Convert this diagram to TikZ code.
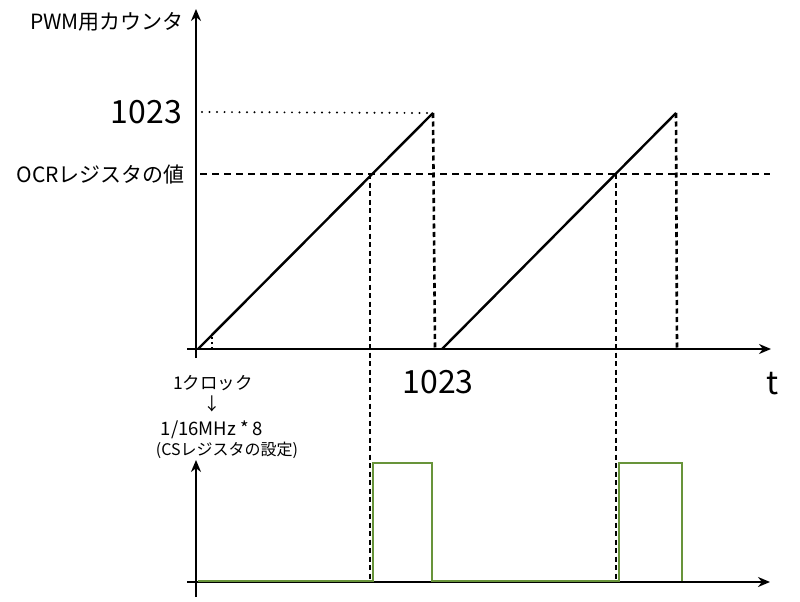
\documentclass[tikz,border=0pt]{standalone}
\usepackage{fontspec}
\setmainfont{Noto Sans CJK JP}
\usetikzlibrary{arrows.meta}
\definecolor{pwmgreen}{RGB}{104,148,58}
\begin{document}
\begin{tikzpicture}[x=1pt,y=-1pt,
    axis/.style={line width=2.2pt,-{Stealth[length=12pt,width=10pt]}},
    ramp/.style={line width=2.4pt},
    cut/.style={line width=2.6pt,dash pattern=on 5pt off 3.5pt},
    level/.style={line width=2.6pt,dash pattern=on 7pt off 5pt},
    dots/.style={line width=2.2pt,line cap=round,dash pattern=on 0pt off 7.5pt},
    pwm/.style={line width=2.6pt,draw=pwmgreen},
    lbl/.style={inner sep=0pt,font=\fontsize{21}{24}\selectfont},
    big/.style={inner sep=0pt,font=\fontsize{32}{36}\selectfont}]
  \useasboundingbox (0,0) rectangle (800,602);
  % upper chart
  \coordinate (Ytop) at (196,9);
  \coordinate (Ybot) at (196,358);
  \coordinate (Xl) at (187,349);
  \coordinate (Xr) at (771,349);
  \coordinate (S1) at (198,349);
  \coordinate (P1) at (433,113);
  \coordinate (E1) at (435,349);
  \coordinate (S2) at (442,349);
  \coordinate (P2) at (676,113);
  \coordinate (E2) at (677,349);
  \coordinate (M) at (202,112);
  \coordinate (Ka) at (212,335);
  \coordinate (Kb) at (212,349);
  \coordinate (Ol) at (200,174);
  \coordinate (Or) at (770,174);
  \coordinate (C1) at (370,174);
  \coordinate (C2) at (616,174);
  \coordinate (D1) at (370,580);
  \coordinate (D2) at (616,580);
  \draw[axis] (Ybot) -- (Ytop);
  \draw[axis] (Xl) -- (Xr);
  \draw[ramp] (S1) -- (P1);
  \draw[ramp] (S2) -- (P2);
  \draw[dots] (M) -- (P1);
  \draw[cut] (P1) -- (E1);
  \draw[cut] (P2) -- (E2);
  \draw[level] (Ol) -- (Or);
  \draw[line width=1.6pt,dash pattern=on 2pt off 3pt] (Kb) -- (Ka);
  \draw[cut] (C1) -- (D1);
  \draw[cut] (C2) -- (D2);
  \node[lbl,anchor=east] (ylab) at (184,22) {PWM用カウンタ};
  \node[big,anchor=east] (top) at (182,112) {1023};
  \node[lbl,anchor=east] (ocr) at (185,175) {OCRレジスタの値};
  \node[big] (bot) at (438,382) {1023};
  \node[big] (tlab) at (773,384) {t};
  \node[inner sep=0pt,font=\fontsize{17.5}{20}\selectfont] (clk) at (213,383) {1クロック};
  \node[inner sep=0pt,font=\fontsize{17.5}{20}\selectfont] (arr) at (212,404) {↓};
  \node[inner sep=0pt,font=\fontsize{18.5}{20}\selectfont] (freq) at (212,430) {1/16MHz * 8};
  \node[inner sep=0pt,font=\fontsize{16}{20}\selectfont] (cs) at (227,450) {(CSレジスタの設定)};
  % lower chart
  \coordinate (Ytop2) at (196,460);
  \coordinate (Ybot2) at (196,597);
  \coordinate (Xl2) at (187,582);
  \coordinate (Xr2) at (770,582);
  \draw[axis] (Ybot2) -- (Ytop2);
  \draw[axis] (Xl2) -- (Xr2);
  \draw[pwm] (198,581) -- (373,581) -- (373,463) -- (432,463) -- (432,581)
    -- (619,581) -- (619,463) -- (682,463) -- (682,581);
\end{tikzpicture}
\end{document}
